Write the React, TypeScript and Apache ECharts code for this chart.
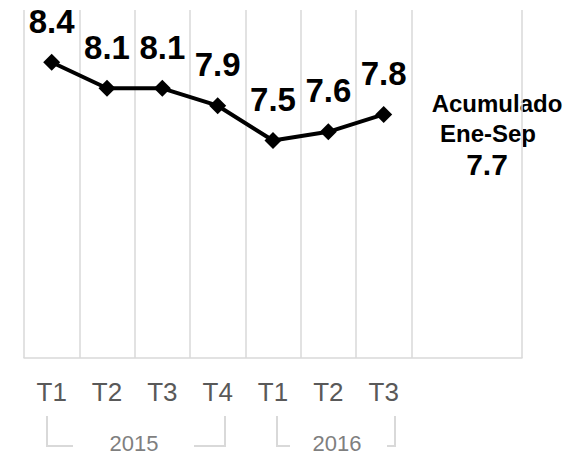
import React, { useEffect, useRef } from "react";
import * as echarts from "echarts";

const categories = ["T1", "T2", "T3", "T4", "T1", "T2", "T3", "", ""];
const values = [8.4, 8.1, 8.1, 7.9, 7.5, 7.6, 7.8];
const yearLabels = ["2015", "2016"];
const annotationLines = ["Acumulado", "Ene-Sep"];
const annotationValue = "7.7";

export default function App() {
  const ref = useRef<HTMLDivElement>(null);
  useEffect(() => {
    if (!ref.current) return;
    const chart = echarts.init(ref.current, null, { renderer: "svg" });
    const font = "'Liberation Sans', Arial, sans-serif";
    const grey = "#d9d9d9";
    chart.setOption({
      animation: false,
      grid: { left: 24, right: 56, top: 10, bottom: 99 },
      xAxis: {
        type: "category",
        data: categories,
        boundaryGap: true,
        axisLine: { lineStyle: { color: grey, width: 1.5 } },
        axisTick: { show: false },
        axisLabel: {
          fontFamily: font,
          fontSize: 26,
          color: "#595959",
          margin: 21,
          interval: 0,
        },
        splitLine: {
          show: true,
          interval: (i: number) => i !== 8,
          lineStyle: { color: grey, width: 1.5 },
        },
      },
      yAxis: {
        type: "value",
        min: 5,
        max: 9,
        show: false,
        splitLine: { show: false },
      },
      series: [
        {
          type: "line",
          data: values,
          symbol: "diamond",
          symbolSize: 17,
          lineStyle: { color: "#000", width: 4 },
          itemStyle: { color: "#000" },
          label: {
            show: true,
            position: "top",
            distance: 16,
            fontFamily: font,
            fontSize: 33,
            fontWeight: "bold",
            color: "#000",
            formatter: (p: any) => p.value.toFixed(1),
          },
        },
      ],
      graphic: [
        {
          type: "text",
          x: 497,
          y: 103,
          style: {
            text: annotationLines[0],
            font: `bold 24px ${font}`,
            fill: "#000",
            align: "center",
            verticalAlign: "middle",
          },
        },
        {
          type: "text",
          x: 488,
          y: 133,
          style: {
            text: annotationLines[1],
            font: `bold 24px ${font}`,
            fill: "#000",
            align: "center",
            verticalAlign: "middle",
          },
        },
        {
          type: "text",
          x: 487,
          y: 164,
          style: {
            text: annotationValue,
            font: `bold 30px ${font}`,
            fill: "#000",
            align: "center",
            verticalAlign: "middle",
          },
        },
        {
          type: "text",
          x: 134,
          y: 443,
          style: {
            text: yearLabels[0],
            font: `22px ${font}`,
            fill: "#7f7f7f",
            align: "center",
            verticalAlign: "middle",
          },
        },
        {
          type: "text",
          x: 337,
          y: 443,
          style: {
            text: yearLabels[1],
            font: `22px ${font}`,
            fill: "#7f7f7f",
            align: "center",
            verticalAlign: "middle",
          },
        },
        {
          type: "polyline",
          shape: { points: [[47, 416], [47, 446], [73, 446]] },
          style: { stroke: grey, lineWidth: 2, fill: null },
        },
        {
          type: "polyline",
          shape: { points: [[194, 446], [225, 446], [225, 416]] },
          style: { stroke: grey, lineWidth: 2, fill: null },
        },
        {
          type: "polyline",
          shape: { points: [[277, 416], [277, 446], [290, 446]] },
          style: { stroke: grey, lineWidth: 2, fill: null },
        },
        {
          type: "polyline",
          shape: { points: [[387, 446], [395, 446], [395, 416]] },
          style: { stroke: grey, lineWidth: 2, fill: null },
        },
      ],
    });
    return () => chart.dispose();
  }, []);
  return (
    <div
      ref={ref}
      style={{ position: "absolute", left: 0, top: 0, width: 578, height: 457 }}
    />
  );
}
